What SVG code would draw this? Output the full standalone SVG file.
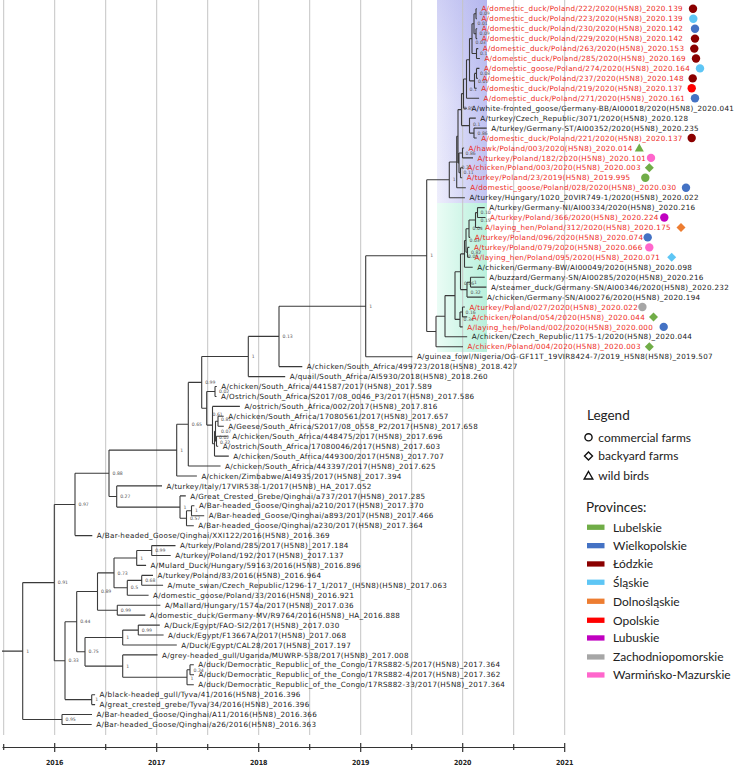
<svg xmlns="http://www.w3.org/2000/svg" width="738" height="767" viewBox="0 0 738 767">
<style>
.t{font-family:"DejaVu Sans",sans-serif;font-size:7.2px;letter-spacing:0.3px;fill:#1a1a1a}
.r{fill:#ee2a24}
.pp{font-family:"DejaVu Sans",sans-serif;font-size:4.6px;fill:#555}
.br{fill:none;stroke:#3a3a3a;stroke-width:1.1}
.grid{stroke:#c4c4c4;stroke-width:1}
.yr{font-family:"DejaVu Sans Condensed","DejaVu Sans",sans-serif;font-size:7px;font-weight:bold;fill:#222;text-anchor:middle}
.lg{font-family:Lato,"Open Sans",sans-serif;font-size:12px;fill:#222}
.lh{font-family:Lato,"Open Sans",sans-serif;font-size:13.5px;fill:#222}
.c-lod{fill:#8b0000}.c-sl{fill:#5ec6f5}.c-wi{fill:#4472c4}.c-op{fill:#ff0000}.c-lu{fill:#70ad47}
.c-do{fill:#ed7d31}.c-lb{fill:#c000c0}.c-za{fill:#a6a6a6}.c-wa{fill:#ff66cc}
</style>
<defs>
<linearGradient id="lav" x1="0" y1="0" x2="1" y2="0">
<stop offset="0" stop-color="#eeeefc"/><stop offset="1" stop-color="#c2c4f2"/>
</linearGradient>
<linearGradient id="lavv" x1="0" y1="0" x2="0" y2="1">
<stop offset="0" stop-color="#9a9ce8" stop-opacity="0.35"/><stop offset="0.5" stop-color="#9a9ce8" stop-opacity="0.08"/><stop offset="1" stop-color="#9a9ce8" stop-opacity="0"/>
</linearGradient>
<linearGradient id="mint" x1="0" y1="0" x2="1" y2="0">
<stop offset="0" stop-color="#eafcf5"/><stop offset="1" stop-color="#b9f0dc"/>
</linearGradient>
</defs>
<rect width="738" height="767" fill="#fff"/>
<rect x="437" y="0" width="50" height="203" fill="url(#lav)"/>
<rect x="437" y="0" width="50" height="203" fill="url(#lavv)"/>
<rect x="437" y="203" width="50" height="149" fill="url(#mint)"/>
<g id="grid" class="grid">
<line x1="3.7" y1="0" x2="3.7" y2="735"/><line x1="54.7" y1="0" x2="54.7" y2="735"/>
<line x1="105.7" y1="0" x2="105.7" y2="735"/><line x1="156.7" y1="0" x2="156.7" y2="735"/>
<line x1="207.7" y1="0" x2="207.7" y2="735"/><line x1="258.7" y1="0" x2="258.7" y2="735"/>
<line x1="309.7" y1="0" x2="309.7" y2="735"/><line x1="360.7" y1="0" x2="360.7" y2="735"/>
<line x1="411.7" y1="0" x2="411.7" y2="735"/><line x1="462.7" y1="0" x2="462.7" y2="735"/>
<line x1="513.7" y1="0" x2="513.7" y2="735"/><line x1="564.7" y1="0" x2="564.7" y2="735"/>
</g>
<g id="connectors">
<path class="br" d="M2,651.1H22.7
M22.7,582.6V719.5M22.7,582.6H54.3M22.7,719.5H62
M62,714.5V724.5M62,714.5H92M62,724.5H91.7
M54.3,504.5V660.7M54.3,504.5H75M54.3,660.7H65
M75,473.3V535.6M75,473.3H109M75,535.6H92.3
M109,450.1V496.5M109,450.1H176.7M109,496.5H116.7
M176.7,424.2V476M176.7,424.2H188.3M176.7,476H196.9
M188.3,382.4V466M188.3,382.4H201.7M188.3,466H220.5
M201.7,356.5V408.3M201.7,356.5H248.3M201.7,408.3H206.7
M248.3,336.4V376.6M248.3,336.4H279M248.3,376.6H285.2
M279,306.2V366.6M279,306.2H365.7M279,366.6H302.3
M365.7,255.7V356.7M365.7,255.7H426.7M365.7,356.7H412.4
M426.7,179.8V331.5M426.7,179.8H449.3M426.7,331.5H436
M449.3,162V197.7M449.3,162H456.7M449.3,197.7H464.9
M456.7,136.3V187.7M456.7,136.3H458M456.7,187.7H465.8
M458,109.6V162.9M458,109.6H461.5M458,162.9H459
M461.5,93.6V125.6M461.5,93.6H463.5M461.5,125.6H469.5
M463.5,79V108.2M463.5,79H466.5M463.5,108.2H466.9
M466.5,59.8V98.3M466.5,59.8H469.5M466.5,98.3H479.1
M469.5,38.6V80.9M469.5,38.6H472M469.5,80.9H474.5
M472,23.7V53.5M472,23.7H474M472,53.5H476.5
M474,13.8V33.7M474,13.8H476M474,33.7H476
M476,8.8V18.7M476,8.8H476.9M476,18.7H476.9
M476,28.7V38.6M476,28.7H477.2M476,38.6H477.2
M476.5,48.6V58.5M476.5,48.6H478.3M476.5,58.5H479.9
M474.5,73.4V88.3M474.5,73.4H476.5M474.5,88.3H476.7
M476.5,68.4V78.4M476.5,68.4H479.4M476.5,78.4H477.8
M469.5,118.1V133.1M469.5,118.1H475.8M469.5,133.1H474
M474,128.1V138M474,128.1H486.7M474,138H476.7
M459,153V172.8M459,153H462.5M459,172.8H460.5
M462.5,148V157.9M462.5,148H464.1M462.5,157.9H473
M460.5,167.8V177.8M460.5,167.8H463M460.5,177.8H462.2
M436,316.2V346.8M436,316.2H445M436,346.8H463
M445,295.6V336.8M445,295.6H455M445,336.8H467.2
M455,271.8V319.4M455,271.8H460.5M455,319.4H460
M460.5,253.9V289.6M460.5,253.9H464.5M460.5,289.6H467
M464.5,240.5V267.2M464.5,240.5H466M464.5,267.2H472.7
M466,228.7V252.3M466,228.7H469M466,252.3H467.5
M469,220V237.4M469,220H475.5M469,237.4H470.2
M475.5,212.6V227.5M475.5,212.6H477.5M475.5,227.5H480.6
M477.5,207.6V217.5M477.5,207.6H484.7M477.5,217.5H485.5
M467.5,247.4V257.3M467.5,247.4H469.4M467.5,257.3H469.9
M467,282.2V297.1M467,282.2H470.5M467,297.1H482.5
M470.5,277.2V287.1M470.5,277.2H484.7M470.5,287.1H486.4
M460,312V326.9M460,312H462.5M460,326.9H462.7
M462.5,307V316.9M462.5,307H464.9M462.5,316.9H467.2
M206.7,391.5V425.1M206.7,391.5H215M206.7,425.1H212.5
M215,386.5V396.5M215,386.5H216.8M215,396.5H216.5
M212.5,406.4V443.7M212.5,406.4H239.9M212.5,443.7H214.5
M214.5,431.3V456.1M214.5,431.3H215.5M214.5,456.1H228.8
M215.5,421.3V441.2M215.5,421.3H218M215.5,441.2H216.5
M218,416.3V426.3M218,416.3H223.7M218,426.3H223.8
M216.5,436.2V446.2M216.5,436.2H227.7M216.5,446.2H218.2
M116.7,485.9V507.1M116.7,485.9H162M116.7,507.1H180
M180,495.9V518.2M180,495.9H185.8M180,518.2H186.5
M186.5,510.8V525.7M186.5,510.8H191.5M186.5,525.7H193.8
M191.5,505.8V515.7M191.5,505.8H194.4M191.5,515.7H204.2
M65,621.7V699.6M65,621.7H76.7M65,699.6H91.7
M76.7,591.5V651.8M76.7,591.5H97.5M76.7,651.8H85
M97.5,572.9V610.2M97.5,572.9H114M97.5,610.2H117.3
M114,558V587.8M114,558H136.7M114,587.8H127.3
M136.7,550.5V565.4M136.7,550.5H151.7M136.7,565.4H146.1
M151.7,545.6V555.5M151.7,545.6H175.5M151.7,555.5H170.7
M127.3,580.4V595.3M127.3,580.4H141.7M127.3,595.3H148.6
M141.7,575.4V585.3M141.7,575.4H153M141.7,585.3H163.1
M117.3,605.2V615.1M117.3,605.2H160.4M117.3,615.1H145.3
M85,637.5V666.1M85,637.5H122.7M85,666.1H122.7
M122.7,630.1V645M122.7,630.1H138.3M122.7,645H176.8
M138.3,625.1V635M138.3,625.1H159.8M138.3,635H163.6
M122.7,654.9V677.3M122.7,654.9H157.5M122.7,677.3H187
M187,669.8V684.7M187,669.8H190M187,684.7H193.8
M190,664.8V674.8M190,664.8H193.8M190,674.8H194
M91.7,694.7V704.6M91.7,694.7H95.1M91.7,704.6H95.1"/>
</g>
<g id="support" class="pp">
<text x="26.2" y="652.7">1</text><text x="57.8" y="584.2">0.91</text><text x="65.5" y="721.1">0.95</text>
<text x="78.5" y="506.1">0.97</text><text x="68.5" y="662.3">0.33</text><text x="112.5" y="474.9">0.88</text>
<text x="120.2" y="498.1">0.27</text><text x="180.2" y="451.7">1</text><text x="183.5" y="508.7">1</text>
<text x="190" y="519.8">0.57</text><text x="195" y="512.4">1</text><text x="191.8" y="425.8">0.65</text>
<text x="205.2" y="384">0.99</text><text x="212.5" y="415.5">0.61</text><text x="219" y="392.5">0.02</text>
<text x="221" y="421">0.81</text><text x="221" y="433">0.07</text><text x="219" y="438.5">0.02</text><text x="220" y="443.5">0.32</text>
<text x="251.8" y="358.1">1</text><text x="282.5" y="338">0.13</text><text x="369.2" y="307.8">1</text>
<text x="430.2" y="257.3">1</text><text x="452.8" y="181.4">1</text>
<text x="479.5" y="15.4">0.09</text><text x="477.5" y="25.3">0.01</text><text x="479.5" y="35.3">0.09</text>
<text x="475.5" y="44">0.03</text><text x="480" y="55.1">0.1</text><text x="480" y="75">0.08</text>
<text x="478" y="82.5">0.01</text><text x="469.5" y="90.5">0.1</text><text x="463.5" y="110">0.85</text>
<text x="473" y="126">0.1</text><text x="477.5" y="134.7">0.86</text><text x="465.5" y="154.6">0.86</text>
<text x="461.5" y="169">0.21</text><text x="463.5" y="174.4">0.11</text>
<text x="480.5" y="214.2">0.10</text><text x="480.5" y="221.6">0.15</text><text x="472.5" y="230.3">0.04</text>
<text x="469.5" y="242.1">0.03</text><text x="471" y="253.9">0.82</text><text x="468" y="257.5">0.05</text>
<text x="464" y="285">0.06</text><text x="474" y="283.8">1</text><text x="470.5" y="294">0.32</text>
<text x="465.5" y="313.6">0.16</text><text x="463.5" y="321">0.34</text>
<text x="155.2" y="552.1">0.99</text><text x="140.2" y="559.6">1</text><text x="145.2" y="582">0.68</text>
<text x="130.8" y="589.4">0.5</text><text x="117.5" y="574.5">0.73</text><text x="120.8" y="611.8">0.99</text>
<text x="101" y="593.1">0.89</text><text x="141.8" y="631.7">0.99</text><text x="126.2" y="639.1">1</text>
<text x="126.2" y="667.7">1</text><text x="88.5" y="653.4">0.75</text><text x="80.2" y="623.3">0.44</text>
<text x="95.2" y="701.2">1</text><text x="190.5" y="680.3">1</text><text x="193.5" y="672">0.24</text>
</g>
<g id="leaves" class="t">
<g id="n1"><text class="t r" x="481.4" y="11.4">A/domestic_duck/Poland/222/2020(H5N8)_2020.139</text><circle class="c-lod" cx="693" cy="8.8" r="4.2"/></g>
<g id="n2"><text class="t r" x="481.4" y="21.3">A/domestic_duck/Poland/223/2020(H5N8)_2020.139</text><circle class="c-sl" cx="693.3" cy="18.7" r="4.2"/></g>
<g id="n3"><text class="t r" x="481.7" y="31.3">A/domestic_duck/Poland/230/2020(H5N8)_2020.142</text><circle class="c-wi" cx="695" cy="28.7" r="4.2"/></g>
<g id="n4"><text class="t r" x="481.7" y="41.2">A/domestic_duck/Poland/229/2020(H5N8)_2020.142</text><circle class="c-lod" cx="695" cy="38.6" r="4.2"/></g>
<g id="n5"><text class="t r" x="482.8" y="51.2">A/domestic_duck/Poland/263/2020(H5N8)_2020.153</text><circle class="c-lod" cx="694.3" cy="48.6" r="4.2"/></g>
<g id="n6"><text class="t r" x="484.4" y="61.1">A/domestic_duck/Poland/285/2020(H5N8)_2020.169</text><circle class="c-lod" cx="696" cy="58.5" r="4.2"/></g>
<g id="n7"><text class="t r" x="483.9" y="71">A/domestic_goose/Poland/274/2020(H5N8)_2020.164</text><circle class="c-sl" cx="700" cy="68.4" r="4.2"/></g>
<g id="n8"><text class="t r" x="482.3" y="81">A/domestic_duck/Poland/237/2020(H5N8)_2020.148</text><circle class="c-lod" cx="692.7" cy="78.4" r="4.2"/></g>
<g id="n9"><text class="t r" x="481.2" y="90.9">A/domestic_duck/Poland/219/2020(H5N8)_2020.137</text><circle class="c-op" cx="691.7" cy="88.3" r="4.2"/></g>
<g id="n10"><text class="t r" x="483.6" y="100.9">A/domestic_duck/Poland/271/2020(H5N8)_2020.161</text><circle class="c-wi" cx="695" cy="98.3" r="4.2"/></g>
<g id="n11"><text x="471.4" y="110.8">A/white-fronted_goose/Germany-BB/AI00018/2020(H5N8)_2020.041</text></g>
<g id="n12"><text x="480.3" y="120.7">A/turkey/Czech_Republic/3071/2020(H5N8)_2020.128</text></g>
<g id="n13"><text x="491.2" y="130.7">A/turkey/Germany-ST/AI00352/2020(H5N8)_2020.235</text></g>
<g id="n14"><text class="t r" x="481.2" y="140.6">A/domestic_duck/Poland/221/2020(H5N8)_2020.137</text><circle class="c-lod" cx="691.7" cy="138" r="4.2"/></g>
<g id="n15"><text class="t r" x="468.6" y="150.6">A/hawk/Poland/003/2020(H5N8)_2020.014</text><polygon class="c-lu" points="639.3,143.6 643.8,151.6 634.8,151.6"/></g>
<g id="n16"><text class="t r" x="477.5" y="160.5">A/turkey/Poland/182/2020(H5N8)_2020.101</text><circle class="c-wa" cx="651" cy="157.9" r="4.2"/></g>
<g id="n17"><text class="t r" x="467.5" y="170.4">A/chicken/Poland/003/2020(H5N8)_2020.003</text><polygon class="c-lu" points="649.3,163.3 653.8,167.8 649.3,172.3 644.8,167.8"/></g>
<g id="n18"><text class="t r" x="466.7" y="180.4">A/turkey/Poland/23/2019(H5N8)_2019.995</text><circle class="c-lu" cx="645.3" cy="177.8" r="4.2"/></g>
<g id="n19"><text class="t r" x="470.3" y="190.3">A/domestic_goose/Poland/028/2020(H5N8)_2020.030</text><circle class="c-wi" cx="686" cy="187.7" r="4.2"/></g>
<g id="n20"><text x="469.4" y="200.3">A/turkey/Hungary/1020_20VIR749-1/2020(H5N8)_2020.022</text></g>
<g id="n21"><text x="489.2" y="210.2">A/turkey/Germany-NI/AI00334/2020(H5N8)_2020.216</text></g>
<g id="n22"><text class="t r" x="490" y="220.1">A/turkey/Poland/366/2020(H5N8)_2020.224</text><circle class="c-lb" cx="664.3" cy="217.5" r="4.2"/></g>
<g id="n23"><text class="t r" x="485.1" y="230.1">A/laying_hen/Poland/312/2020(H5N8)_2020.175</text><polygon class="c-do" points="681,223 685.5,227.5 681,232 676.5,227.5"/></g>
<g id="n24"><text class="t r" x="474.7" y="240">A/turkey/Poland/096/2020(H5N8)_2020.074</text><circle class="c-wi" cx="647.7" cy="237.4" r="4.2"/></g>
<g id="n25"><text class="t r" x="473.9" y="250">A/turkey/Poland/079/2020(H5N8)_2020.066</text><circle class="c-wa" cx="649.3" cy="247.4" r="4.2"/></g>
<g id="n26"><text class="t r" x="474.4" y="259.9">A/laying_hen/Poland/095/2020(H5N8)_2020.071</text><polygon class="c-sl" points="671.7,252.8 676.2,257.3 671.7,261.8 667.2,257.3"/></g>
<g id="n27"><text x="477.2" y="269.8">A/chicken/Germany-BW/AI00049/2020(H5N8)_2020.098</text></g>
<g id="n28"><text x="489.2" y="279.8">A/buzzard/Germany-SN/AI00285/2020(H5N8)_2020.216</text></g>
<g id="n29"><text x="490.9" y="289.7">A/steamer_duck/Germany-SN/AI00346/2020(H5N8)_2020.232</text></g>
<g id="n30"><text x="487" y="299.7">A/chicken/Germany-SN/AI00276/2020(H5N8)_2020.194</text></g>
<g id="n31"><text class="t r" x="469.4" y="309.6">A/turkey/Poland/027/2020(H5N8)_2020.022</text><circle class="c-za" cx="642.4" cy="307" r="4.2"/></g>
<g id="n32"><text class="t r" x="471.7" y="319.5">A/chicken/Poland/054/2020(H5N8)_2020.044</text><polygon class="c-lu" points="653.5,312.4 658,316.9 653.5,321.4 649,316.9"/></g>
<g id="n33"><text class="t r" x="467.2" y="329.5">A/laying_hen/Poland/002/2020(H5N8)_2020.000</text><circle class="c-wi" cx="663.7" cy="326.9" r="4.2"/></g>
<g id="n34"><text x="471.7" y="339.4">A/chicken/Czech_Republic/1175-1/2020(H5N8)_2020.044</text></g>
<g id="n35"><text class="t r" x="467.5" y="349.4">A/chicken/Poland/004/2020(H5N8)_2020.003</text><polygon class="c-lu" points="649.3,342.3 653.8,346.8 649.3,351.3 644.8,346.8"/></g>
<g id="n36"><text x="416.9" y="359.3">A/guinea_fowl/Nigeria/OG-GF11T_19VIR8424-7/2019_H5N8(H5N8)_2019.507</text></g>
<g id="n37"><text x="306.8" y="369.2">A/chicken/South_Africa/499723/2018(H5N8)_2018.427</text></g>
<g id="n38"><text x="289.7" y="379.2">A/quail/South_Africa/AI5930/2018(H5N8)_2018.260</text></g>
<g id="n39"><text x="221.3" y="389.1">A/chicken/South_Africa/441587/2017(H5N8)_2017.589</text></g>
<g id="n40"><text x="221" y="399.1">A/Ostrich/South_Africa/S2017/08_0046_P3/2017(H5N8)_2017.586</text></g>
<g id="n41"><text x="244.4" y="409">A/ostrich/South_Africa/002/2017(H5N8)_2017.816</text></g>
<g id="n42"><text x="228.2" y="418.9">A/chicken/South_Africa/17080561/2017(H5N8)_2017.657</text></g>
<g id="n43"><text x="228.3" y="428.9">A/Geese/South_Africa/S2017/08_0558_P2/2017(H5N8)_2017.658</text></g>
<g id="n44"><text x="232.2" y="438.8">A/chicken/South_Africa/448475/2017(H5N8)_2017.696</text></g>
<g id="n45"><text x="222.7" y="448.8">A/ostrich/South_Africa/17080046/2017(H5N8)_2017.603</text></g>
<g id="n46"><text x="233.3" y="458.7">A/chicken/South_Africa/449300/2017(H5N8)_2017.707</text></g>
<g id="n47"><text x="225" y="468.6">A/chicken/South_Africa/443397/2017(H5N8)_2017.625</text></g>
<g id="n48"><text x="201.4" y="478.6">A/chicken/Zimbabwe/AI4935/2017(H5N8)_2017.394</text></g>
<g id="n49"><text x="166.5" y="488.5">A/turkey/Italy/17VIR538-1/2017(H5N8)_HA_2017.052</text></g>
<g id="n50"><text x="190.3" y="498.5">A/Great_Crested_Grebe/Qinghai/a737/2017(H5N8)_2017.285</text></g>
<g id="n51"><text x="198.9" y="508.4">A/Bar-headed_Goose/Qinghai/a210/2017(H5N8)_2017.370</text></g>
<g id="n52"><text x="208.7" y="518.3">A/Bar-headed_Goose/Qinghai/a893/2017(H5N8)_2017.466</text></g>
<g id="n53"><text x="198.3" y="528.3">A/Bar-headed_Goose/Qinghai/a230/2017(H5N8)_2017.364</text></g>
<g id="n54"><text x="96.8" y="538.2">A/Bar-headed_Goose/Qinghai/XXI122/2016(H5N8)_2016.369</text></g>
<g id="n55"><text x="180" y="548.2">A/turkey/Poland/285/2017(H5N8)_2017.184</text></g>
<g id="n56"><text x="175.2" y="558.1">A/turkey/Poland/192/2017(H5N8)_2017.137</text></g>
<g id="n57"><text x="150.6" y="568">A/Mulard_Duck/Hungary/59163/2016(H5N8)_2016.896</text></g>
<g id="n58"><text x="157.5" y="578">A/turkey/Poland/83/2016(H5N8)_2016.964</text></g>
<g id="n59"><text x="167.6" y="587.9">A/mute_swan/Czech_Republic/1296-17_1/2017_(H5N8)(H5N8)_2017.063</text></g>
<g id="n60"><text x="153.1" y="597.9">A/domestic_goose/Poland/33/2016(H5N8)_2016.921</text></g>
<g id="n61"><text x="164.9" y="607.8">A/Mallard/Hungary/1574a/2017(H5N8)_2017.036</text></g>
<g id="n62"><text x="149.8" y="617.7">A/domestic_duck/Germany-MV/R9764/2016(H5N8)_HA_2016.888</text></g>
<g id="n63"><text x="164.3" y="627.7">A/Duck/Egypt/FAO-SI2/2017(H5N8)_2017.030</text></g>
<g id="n64"><text x="168.1" y="637.6">A/duck/Egypt/F13667A/2017(H5N8)_2017.068</text></g>
<g id="n65"><text x="181.3" y="647.6">A/Duck/Egypt/CAL28/2017(H5N8)_2017.197</text></g>
<g id="n66"><text x="162" y="657.5">A/grey-headed_gull/Uganda/MUWRP-538/2017(H5N8)_2017.008</text></g>
<g id="n67"><text x="198.3" y="667.4">A/duck/Democratic_Republic_of_the_Congo/17RS882-5/2017(H5N8)_2017.364</text></g>
<g id="n68"><text x="198.5" y="677.4">A/duck/Democratic_Republic_of_the_Congo/17RS882-4/2017(H5N8)_2017.362</text></g>
<g id="n69"><text x="198.3" y="687.3">A/duck/Democratic_Republic_of_the_Congo/17RS882-33/2017(H5N8)_2017.364</text></g>
<g id="n70"><text x="99.6" y="697.3">A/black-headed_gull/Tyva/41/2016(H5N8)_2016.396</text></g>
<g id="n71"><text x="99.6" y="707.2">A/great_crested_grebe/Tyva/34/2016(H5N8)_2016.396</text></g>
<g id="n72"><text x="96.5" y="717.1">A/Bar-headed_Goose/Qinghai/A11/2016(H5N8)_2016.366</text></g>
<g id="n73"><text x="96.2" y="727.1">A/Bar-headed_Goose/Qinghai/a26/2016(H5N8)_2016.363</text></g>
</g>
<g id="axis">
<path fill="none" stroke="#333" stroke-width="1.2" d="M2.5,747.5H564.7M3.7,744V750M54.7,743V752M105.7,744V750M156.7,743V752M207.7,744V750M258.7,743V752M309.7,744V750M360.7,743V752M411.7,744V750M462.7,743V752M513.7,744V750M564.7,743V752"/>
<text class="yr" x="54.7" y="765">2016</text><text class="yr" x="156.7" y="765">2017</text>
<text class="yr" x="258.7" y="765">2018</text><text class="yr" x="360.7" y="765">2019</text>
<text class="yr" x="462.7" y="765">2020</text><text class="yr" x="564.7" y="765">2021</text>
</g>
<g id="legend">
<text class="lh" x="587" y="420">Legend</text>
<circle cx="588.5" cy="437.3" r="3.6" fill="none" stroke="#111" stroke-width="1.4"/>
<text class="lg" x="598.3" y="441.5">commercial farms</text>
<polygon points="588.5,452 592.5,456 588.5,460 584.5,456" fill="none" stroke="#111" stroke-width="1.4"/>
<text class="lg" x="598.3" y="460.2">backyard farms</text>
<polygon points="588.5,471.5 592.8,479 584.2,479" fill="none" stroke="#111" stroke-width="1.4"/>
<text class="lg" x="598.3" y="479.9">wild birds</text>
<text class="lh" x="586" y="512">Provinces:</text>
<rect class="c-lu" x="587" y="524.6" width="17.5" height="5.3"/><text class="lg" x="613" y="531.5">Lubelskie</text>
<rect class="c-wi" x="587" y="543" width="17.5" height="5.3"/><text class="lg" x="613" y="549.9">Wielkopolskie</text>
<rect class="c-lod" x="587" y="561.3" width="17.5" height="5.3"/><text class="lg" x="613" y="568.2">Łódzkie</text>
<rect class="c-sl" x="587" y="579.6" width="17.5" height="5.3"/><text class="lg" x="613" y="586.5">Śląskie</text>
<rect class="c-do" x="587" y="598.6" width="17.5" height="5.3"/><text class="lg" x="613" y="605.5">Dolnośląskie</text>
<rect class="c-op" x="587" y="617.6" width="17.5" height="5.3"/><text class="lg" x="613" y="624.5">Opolskie</text>
<rect class="c-lb" x="587" y="635.3" width="17.5" height="5.3"/><text class="lg" x="613" y="642.2">Lubuskie</text>
<rect class="c-za" x="587" y="654.3" width="17.5" height="5.3"/><text class="lg" x="613" y="661.2">Zachodniopomorskie</text>
<rect class="c-wa" x="587" y="672.3" width="17.5" height="5.3"/><text class="lg" x="613" y="679.2">Warmińsko-Mazurskie</text>
</g>
</svg>
